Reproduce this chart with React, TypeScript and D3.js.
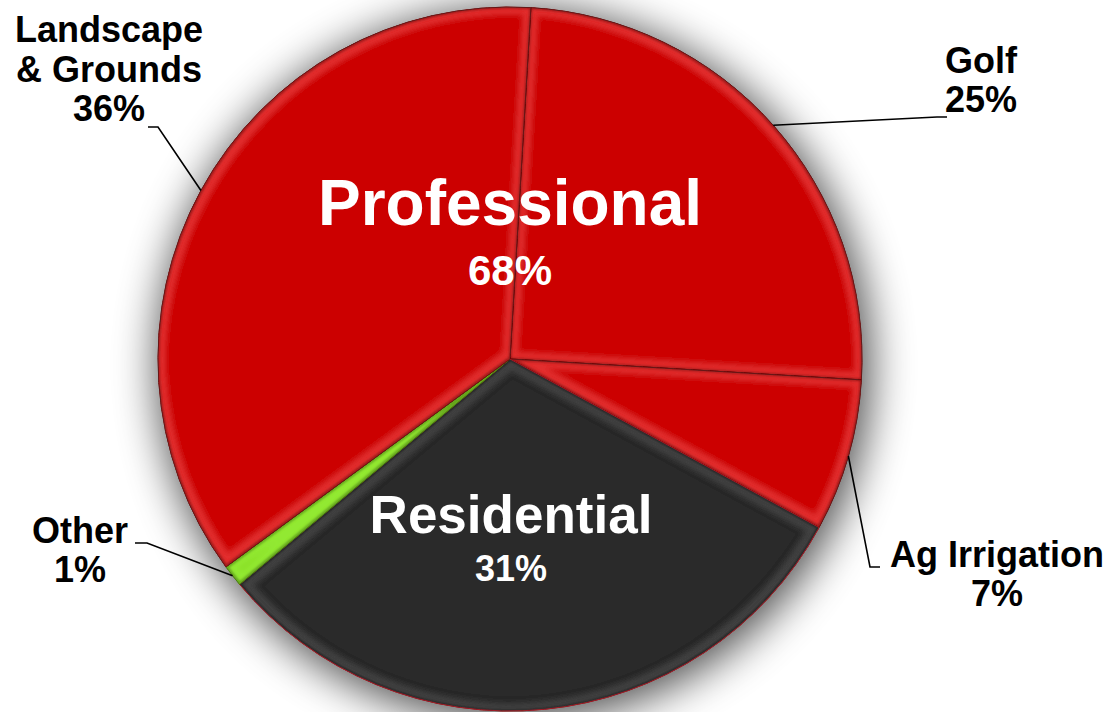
import { useMemo } from "react";
import * as d3 from "d3";

// slices, clockwise from just right of 12 o'clock
const categories = ["Golf", "Ag Irrigation", "Residential", "Other", "Landscape & Grounds"];
const shares = [25, 7, 31, 1, 36];
const groups = ["Professional", "Professional", "Residential", "Other", "Professional"];

const groupNames = ["Professional", "Residential"];
const groupShares = [68, 31];

const FILL: Record<string, string> = {
  Professional: "#cc0000",
  Residential: "#2b2b2b",
  Other: "#7fd20e",
};
const STROKE: Record<string, string> = {
  Professional: "#700000",
  Residential: "#b0101c",
  Other: "#4f8a00",
};

const WIDTH = 1111;
const HEIGHT = 712;
const CX = 510;
const CY = 359;
const R = 352;
const START = (3.4 * Math.PI) / 180;

// outer label placement: text anchor + leader elbow
const LABEL_LAYOUT: Record<string, { lines: string[]; x: number; y: number; elbow: [number, number]; end: [number, number] }> = {
  Golf: { lines: ["Golf"], x: 981, y: 73, elbow: [937, 117], end: [947, 117] },
  "Ag Irrigation": { lines: ["Ag Irrigation"], x: 997, y: 567, elbow: [870, 567], end: [880, 567] },
  Other: { lines: ["Other"], x: 80, y: 543, elbow: [147, 543], end: [135, 543] },
  "Landscape & Grounds": { lines: ["Landscape", "& Grounds"], x: 109, y: 42, elbow: [158, 127], end: [148, 127] },
};

const GROUP_LAYOUT: Record<string, { x: number; y: number; size: number; pctSize: number; gap: number }> = {
  Professional: { x: 510, y: 225, size: 64, pctSize: 42, gap: 60 },
  Residential: { x: 511, y: 533, size: 53, pctSize: 36, gap: 48 },
};

const FONT = "'Liberation Sans', Arial, Helvetica, sans-serif";

export default function App() {
  const arcs = useMemo(() => {
    const pie = d3
      .pie<number>()
      .value((d) => d)
      .sort(null)
      .startAngle(START)
      .endAngle(START + 2 * Math.PI);
    return pie(shares);
  }, []);

  const arc = d3.arc<d3.PieArcDatum<number>>().innerRadius(0).outerRadius(R);
  const labelLineH = 40;

  return (
    <div style={{ position: "fixed", left: 0, top: 0, width: WIDTH, height: HEIGHT, background: "#fff" }}>
      <svg width={WIDTH} height={HEIGHT} style={{ display: "block" }}>
        <defs>
          <filter id="shadow" x="-30%" y="-30%" width="160%" height="160%">
            <feGaussianBlur stdDeviation="22" />
          </filter>
          <filter id="bevel" x="-5%" y="-5%" width="110%" height="110%">
            {/* brighter band just inside each slice edge */}
            <feMorphology in="SourceAlpha" operator="erode" radius="7" result="er" />
            <feGaussianBlur in="er" stdDeviation="2.5" result="erb" />
            <feComposite in="SourceAlpha" in2="erb" operator="out" result="ring" />
            <feGaussianBlur in="ring" stdDeviation="1.5" result="ringb" />
            <feComponentTransfer in="SourceGraphic" result="bright">
              <feFuncR type="linear" slope="1.22" intercept="0.03" />
              <feFuncG type="linear" slope="1.22" intercept="0.03" />
              <feFuncB type="linear" slope="1.22" intercept="0.03" />
            </feComponentTransfer>
            <feComposite in="bright" in2="ringb" operator="in" result="hl" />
            <feComposite in="hl" in2="SourceAlpha" operator="in" result="hl2" />
            {/* dark rim right at the edge */}
            <feMorphology in="SourceAlpha" operator="erode" radius="2" result="er1" />
            <feComposite in="SourceAlpha" in2="er1" operator="out" result="edge" />
            <feGaussianBlur in="edge" stdDeviation="1" result="edgeb" />
            <feFlood floodColor="#000000" floodOpacity="0.55" result="bk" />
            <feComposite in="bk" in2="edgeb" operator="in" result="dk" />
            <feComposite in="dk" in2="SourceAlpha" operator="in" result="dk2" />
            <feMerge>
              <feMergeNode in="SourceGraphic" />
              <feMergeNode in="hl2" />
              <feMergeNode in="dk2" />
            </feMerge>
          </filter>
        </defs>

        <circle cx={CX + 4} cy={CY + 6} r={R + 4} fill="#000" opacity={0.7} filter="url(#shadow)" />

        <g transform={`translate(${CX},${CY})`}>
          {arcs.map((a, i) => (
            <path
              key={categories[i]}
              d={arc(a) || ""}
              fill={FILL[groups[i]]}
              stroke={STROKE[groups[i]]}
              strokeWidth={1}
              filter="url(#bevel)"
            />
          ))}
        </g>

        {/* leader lines + outer labels */}
        {arcs.map((a, i) => {
          const lay = LABEL_LAYOUT[categories[i]];
          if (!lay) return null;
          const mid = (a.startAngle + a.endAngle) / 2;
          const px = CX + R * Math.sin(mid);
          const py = CY - R * Math.cos(mid);
          const pts = [[px, py], lay.elbow, lay.end] as [number, number][];
          return (
            <g key={categories[i]}>
              <path d={d3.line()(pts) || ""} fill="none" stroke="#000" strokeWidth={1.6} />
              <text
                x={lay.x}
                y={lay.y}
                textAnchor="middle"
                fontFamily={FONT}
                fontWeight="bold"
                fontSize={36}
                fill="#000"
              >
                {lay.lines.map((l, k) => (
                  <tspan key={k} x={lay.x} dy={k === 0 ? 0 : labelLineH}>
                    {l}
                  </tspan>
                ))}
                <tspan x={lay.x} dy={labelLineH - 1}>
                  {shares[i]}%
                </tspan>
              </text>
            </g>
          );
        })}

        {/* group labels inside the pie */}
        {groupNames.map((g, i) => {
          const lay = GROUP_LAYOUT[g];
          return (
            <g key={g} fontFamily={FONT} fontWeight="bold" fill="#fff" textAnchor="middle">
              <text x={lay.x} y={lay.y} fontSize={lay.size}>
                {g}
              </text>
              <text x={lay.x} y={lay.y + lay.gap} fontSize={lay.pctSize}>
                {groupShares[i]}%
              </text>
            </g>
          );
        })}
      </svg>
    </div>
  );
}
